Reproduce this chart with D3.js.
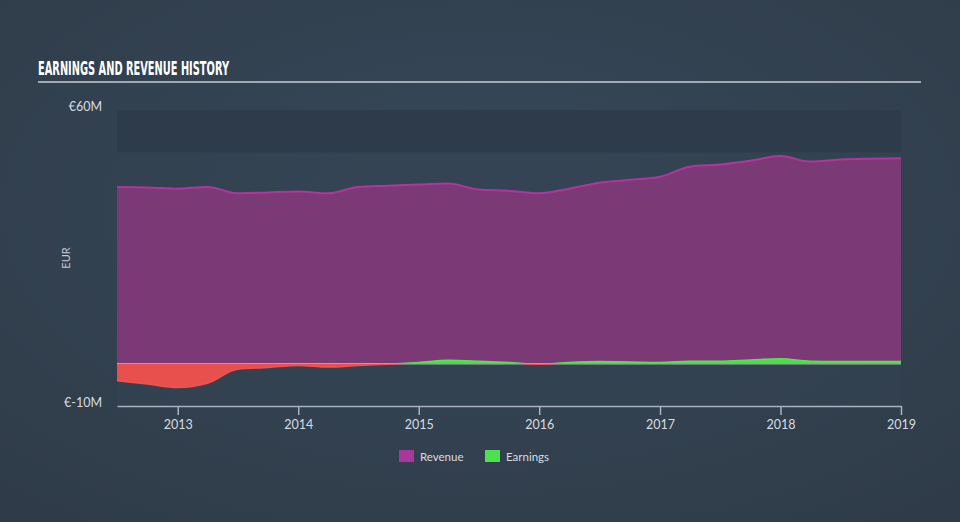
<!DOCTYPE html>
<html><head><meta charset="utf-8">
<script src="https://cdn.jsdelivr.net/npm/d3@7"></script>
<style>
html,body{margin:0;padding:0;background:#344353;}
svg{display:block;}
</style></head>
<body>
<svg id="chart" width="960" height="522"></svg>
<script>
const dates = ["2012-07-01","2012-10-01","2013-01-01","2013-04-01","2013-07-01","2013-10-01","2014-01-01","2014-04-01","2014-07-01","2014-10-01","2015-01-01","2015-04-01","2015-07-01","2015-10-01","2016-01-01","2016-04-01","2016-07-01","2016-10-01","2017-01-01","2017-04-01","2017-07-01","2017-10-01","2018-01-01","2018-04-01","2018-07-01","2018-10-01","2019-01-01"];
const revenue = [41.8,41.7,41.4,41.8,40.3,40.5,40.7,40.3,41.8,42.1,42.4,42.6,41.2,40.9,40.3,41.4,42.8,43.5,44.2,46.6,47.1,48.0,49.1,47.8,48.3,48.5,48.6];
const earnings = [-4.0,-4.8,-5.6,-4.6,-1.3,-0.9,-0.4,-0.8,-0.4,-0.1,0.3,0.8,0.6,0.3,-0.1,0.3,0.5,0.4,0.3,0.6,0.6,0.9,1.2,0.6,0.5,0.5,0.5];
const xTicks = ["2013","2014","2015","2016","2017","2018","2019"];
const yTickLabels = ["€60M","€-10M"];
const yTickValues = [60,-10];

const parse = d3.timeParse("%Y-%m-%d");
const data = dates.map((d,i)=>({date:parse(d),rev:revenue[i],earn:earnings[i]}));

const svg = d3.select("#chart");
const W=960,H=522;
const defs = svg.append("defs");
const rg = defs.append("radialGradient").attr("id","bg").attr("cx","50%").attr("cy","40%").attr("r","75%");
rg.append("stop").attr("offset","0%").attr("stop-color","#37495a");
rg.append("stop").attr("offset","100%").attr("stop-color","#2f3b48");
svg.append("rect").attr("width",W).attr("height",H).attr("fill","url(#bg)");

const pL=117,pR=901,pT=110,pB=406;
const x = d3.scaleTime().domain([parse("2012-07-01"),parse("2019-01-01")]).range([pL,pR]);
const y = d3.scaleLinear().domain([-10,60]).range([pB,pT]);

// title
svg.append("text").attr("x",38).attr("y",75).text("EARNINGS AND REVENUE HISTORY")
  .attr("fill","#ffffff").attr("font-family","'Liberation Sans Narrow','DejaVu Sans Condensed',sans-serif")
  .attr("font-weight","bold").attr("font-size",19)
  .attr("textLength",191).attr("lengthAdjust","spacingAndGlyphs");
svg.append("line").attr("x1",38).attr("x2",921).attr("y1",82).attr("y2",82).attr("stroke","#c8ccd2").attr("stroke-width",1.5);

// plot background
svg.append("rect").attr("x",pL).attr("y",pT).attr("width",pR-pL).attr("height",pB-pT).attr("fill","#334352").attr("opacity",0.6);
svg.append("rect").attr("x",pL).attr("y",y(60)).attr("width",pR-pL).attr("height",y(50)-y(60)).attr("fill","#2e3b4a");

const curve = d3.curveMonotoneX;
// revenue area
svg.append("path").datum(data).attr("fill","#7b3a76")
  .attr("d",d3.area().x(d=>x(d.date)).y0(y(0)).y1(d=>y(d.rev)).curve(curve));
svg.append("path").datum(data).attr("fill","none").attr("stroke","#b2359f").attr("stroke-width",2)
  .attr("d",d3.line().x(d=>x(d.date)).y(d=>y(d.rev)).curve(curve));

// zero line
svg.append("line").attr("x1",pL).attr("x2",pR).attr("y1",y(0)).attr("y2",y(0)).attr("stroke","#a9adb3").attr("stroke-width",1.5);

// earnings areas (clip positive / negative)
defs.append("clipPath").attr("id","pos").append("rect").attr("x",pL).attr("y",0).attr("width",pR-pL).attr("height",y(0));
defs.append("clipPath").attr("id","neg").append("rect").attr("x",pL).attr("y",y(0)).attr("width",pR-pL).attr("height",H-y(0));
const earnArea = d3.area().x(d=>x(d.date)).y0(y(0)).y1(d=>y(d.earn)).curve(curve);
svg.append("path").datum(data).attr("fill","#4cdc4c").attr("clip-path","url(#pos)").attr("d",earnArea);
svg.append("path").datum(data).attr("fill","#e8504e").attr("clip-path","url(#neg)").attr("d",earnArea);
const earnLine = d3.line().x(d=>x(d.date)).y(d=>y(d.earn)).curve(curve);
svg.append("path").datum(data).attr("fill","none").attr("stroke","#52e84a").attr("stroke-width",1.5).attr("clip-path","url(#pos)").attr("d",earnLine);
svg.append("path").datum(data).attr("fill","none").attr("stroke","#f0524f").attr("stroke-width",1.5).attr("clip-path","url(#neg)").attr("d",earnLine);

// x axis
const xg = svg.append("g").attr("transform",`translate(0,${pB})`)
  .call(d3.axisBottom(x).tickValues(xTicks.map(t=>parse(t+"-01-01"))).tickFormat(d3.timeFormat("%Y")).tickSize(9).tickSizeOuter(0).tickPadding(5));
xg.select(".domain").attr("stroke","#a9b2bd").attr("stroke-width",1.5);
xg.selectAll(".tick line").attr("stroke","#a9b2bd").attr("stroke-width",1.5);
xg.selectAll(".tick text").attr("fill","#d8dce0").attr("font-size",12.5).attr("font-family","Lato,'Open Sans',sans-serif");

// y labels
const yl = svg.append("g");
yl.selectAll("text").data(yTickValues).join("text")
  .attr("x",102).attr("y",d=>y(d)).attr("dy","0.1em").attr("text-anchor","end")
  .attr("fill","#d8dce0").attr("font-size",12.5).attr("font-family","Lato,'Open Sans',sans-serif")
  .text((d,i)=>yTickLabels[i]);
svg.append("text").attr("transform","translate(70,258) rotate(-90)").attr("text-anchor","middle")
  .attr("fill","#c4c9cf").attr("font-size",11).attr("font-family","Lato,'Open Sans',sans-serif").text("EUR");

// legend
const legend = [{name:"Revenue",color:"#a8379c",x:399},{name:"Earnings",color:"#4fe04f",x:485}];
const lg = svg.append("g");
legend.forEach(l=>{
  lg.append("rect").attr("x",l.x).attr("y",450).attr("width",15).attr("height",12).attr("fill",l.color);
  lg.append("text").attr("x",l.x+21).attr("y",460.5).text(l.name).attr("fill","#d8dce0")
    .attr("font-size",11.5).attr("font-family","Lato,'Open Sans',sans-serif");
});
</script>
</body></html>
